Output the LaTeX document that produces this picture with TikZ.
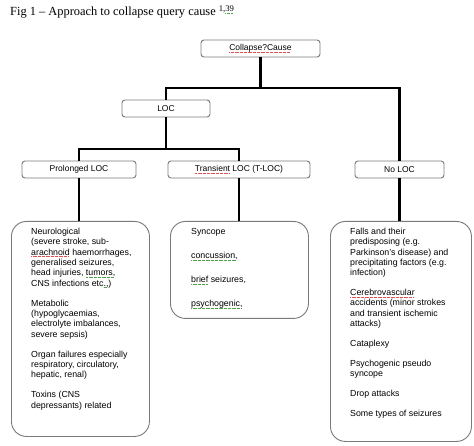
\documentclass[tikz,border=0pt]{standalone}
\usepackage{fontspec}
\setmainfont{Liberation Sans}
\newfontfamily\serifttl{Liberation Serif}
\definecolor{boxgray}{HTML}{7A7A7A}
\definecolor{sqred}{HTML}{E05050}
\definecolor{sqgreen}{HTML}{50A050}
\newcommand\squig[2]{\setbox0\hbox{#2}\rlap{\color{#1}\hbox to \wd0{\leaders\hbox{\rule[-1.8pt]{0.8pt}{0.5pt}\kern0.5pt}\hfill}}\box0\relax}
\newcommand\redsq[1]{\squig{sqred}{#1}}
\newcommand\grnsq[1]{\squig{sqgreen}{#1}}
\begin{document}
\begin{tikzpicture}[x=1pt,y=-1pt,
  lvl/.style={draw=boxgray, line width=0.9pt, rounded corners=3pt, minimum height=17pt, inner sep=0pt, font=\fontsize{8.5}{10}\selectfont},
  bigbox/.style={draw=boxgray, line width=0.9pt, rounded corners=15pt, inner sep=0pt, anchor=north west},
  body/.style={anchor=north west, inner sep=0pt, align=left, font=\fontsize{8.8}{10.3}\selectfont},
  conn/.style={line width=2.4pt, black, line join=miter}]
\useasboundingbox (0,0) rectangle (474,446);
\fill[white] (0,0) rectangle (474,446);
\node[anchor=base west, inner sep=0pt, font=\serifttl\fontsize{12.4}{14}\selectfont] (title) at (10,16) {Fig 1 – Approach to collapse query cause \textsuperscript{1,\grnsq{39}}};
\node[lvl, minimum width=119pt] (collapse) at (260.5,48.5) {\redsq{Collapse?Cause}};
\node[lvl, minimum width=88pt] (loc) at (166,108.5) {LOC};
\node[lvl, minimum width=114pt] (prolonged) at (79,169.5) {Prolonged LOC};
\node[lvl, minimum width=142pt] (transient) at (239,169.5) {\redsq{Transient} LOC (T-LOC)};
\node[lvl, minimum width=89pt] (noloc) at (399.5,169.5) {No LOC};
\node[bigbox, minimum width=138pt, minimum height=215pt] (prolbox) at (11,221) {};
\node[bigbox, minimum width=138pt, minimum height=97pt] (transbox) at (170,221) {};
\node[bigbox, minimum width=141pt, minimum height=220pt] (nolocbox) at (330,221) {};
\node[body] (proltext) at (31,228) {Neurological\\(severe stroke, sub-\\\redsq{arachnoid} haemorrhages,\\generalised seizures,\\head injuries, \grnsq{tumors,}\\CNS infections etc\grnsq{.,})\\[9.8pt]Metabolic\\(hypoglycaemias,\\electrolyte imbalances,\\severe sepsis)\\[9.8pt]Organ failures especially\\respiratory, circulatory,\\hepatic, renal)\\[9.8pt]Toxins (CNS\\depressants) related};
\node[body] (transtext) at (191,228) {Syncope\\[13.7pt]\grnsq{concussion,}\\[13.7pt]\grnsq{brief} seizures,\\[13.7pt]\grnsq{psychogenic,}};
\node[body] (noloctext) at (350,228) {Falls and their\\predisposing (e.g.\\Parkinson’s disease) and\\precipitating factors (e.g.\\infection)\\[9.6pt]\redsq{Cerebrovascular}\\accidents (minor strokes\\and transient ischemic\\attacks)\\[9.6pt]Cataplexy\\[9.6pt]Psychogenic pseudo\\syncope\\[9.6pt]Drop attacks\\[9.6pt]Some types of seizures};
\coordinate (lvlone) at (0,88);
\coordinate (lvltwo) at (0,149);
\draw[conn] (collapse.south) -- (collapse.south |- lvlone);
\draw[conn] (loc.north) |- (noloc.north |- lvlone) -- (noloc.north);
\draw[conn] (loc.south) -- (loc.south |- lvltwo);
\draw[conn] (prolonged.north) |- (transient.north |- lvltwo) -- (transient.north);
\draw[conn] (prolonged.south) -- (prolonged.south |- prolbox.north);
\draw[conn] (transient.south) -- (transient.south |- transbox.north);
\draw[conn] (noloc.south) -- (noloc.south |- nolocbox.north);
\end{tikzpicture}
\end{document}
